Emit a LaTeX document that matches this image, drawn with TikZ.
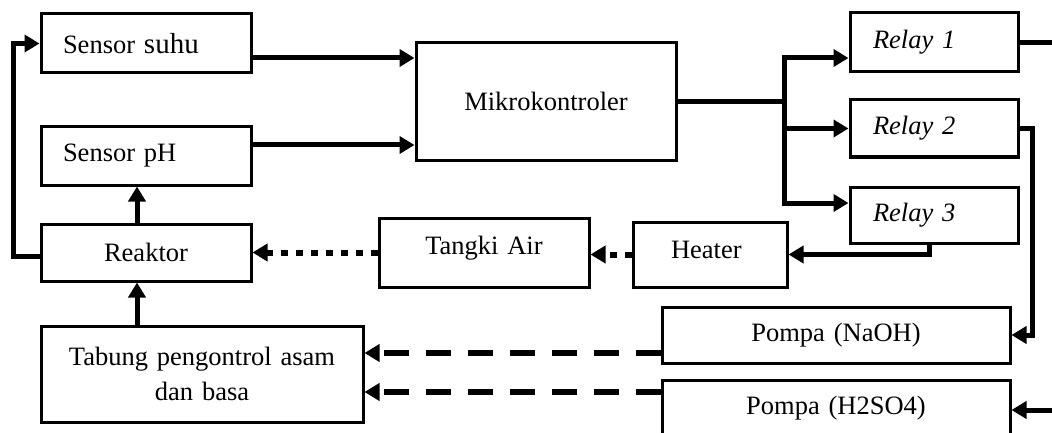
\documentclass[tikz,border=0pt]{standalone}
\usepackage{fontspec}
\setmainfont{Liberation Serif}
\usetikzlibrary{arrows.meta}
\begin{document}
\begin{tikzpicture}[x=1pt,y=-1pt,
  bx/.style={draw, line width=3pt, inner sep=0pt, font=\fontsize{26.5}{35}\selectfont},
  lbx/.style={bx, align=left, inner xsep=22pt},
  rbx/.style={bx, align=left, inner xsep=23pt, text width=122pt, font=\fontsize{26.5}{35}\selectfont\itshape},
  arr/.style={line width=5pt, -{Triangle[length=15pt,width=17pt]}},
  ln/.style={line width=5pt},
  dotarr/.style={line width=6pt, dash pattern=on 7pt off 8pt, -{Triangle[length=15pt,width=17pt]}},
  dasharr/.style={line width=6pt, dash pattern=on 25pt off 17pt, -{Triangle[length=15pt,width=17pt]}}]
\clip (0,0) rectangle (1052,433);
\fill[white] (0,0) rectangle (1052,433);
% boxes
\node[lbx, minimum height=59pt, text width=166pt] (suhu) at (146,43.5) {Sensor {\fontsize{29}{35}\selectfont suhu}};
\node[lbx, minimum height=58pt, text width=166pt] (ph) at (146,156) {Sensor pH};
\node[bx, minimum height=57pt, text width=210pt, align=center] (reaktor) at (146,252.5) {Reaktor};
\node[bx, minimum height=96pt, text width=322pt, align=center] (tabung) at (202,374) {Tabung pengontrol asam\\dan basa};
\node[bx, minimum height=117pt, text width=260pt, align=center] (mikro) at (546,101.5) {Mikrokontroler};
\node[rbx, minimum height=59pt] (relay1) at (934,42.5) {Relay 1};
\node[rbx, minimum height=57pt] (relay2) at (934,128.5) {Relay 2};
\node[rbx, minimum height=56pt] (relay3) at (934,215) {Relay 3};
\node[bx, minimum height=69pt, text width=210pt, align=center, text depth=14pt] (tangki) at (484,252.5) {Tangki Air};
\node[bx, minimum height=65pt, inner xsep=38pt, text width=78pt, align=left, text depth=10pt] (heater) at (710,254.5) {Heater};
\node[bx, minimum height=56pt, text width=348pt, align=center] (naoh) at (836,335) {Pompa (NaOH)};
\node[bx, minimum height=56pt, text width=348pt, align=center] (hso) at (836,408) {Pompa (H2SO4)};
% coordinates
\coordinate (fb) at (13,43.5);
\coordinate (br) at (784,101.5);
\coordinate (r2c) at (1032,335);
\coordinate (r1out) at (1070,42.5);
\coordinate (hin) at (1070,410);
\coordinate (rkw) at ([yshift=-4pt]reaktor.west);
\coordinate (suo) at ([yshift=-14.5pt]suhu.east);
\coordinate (pho) at ([yshift=11pt]ph.east);
\coordinate (rkn) at ([xshift=-9pt]reaktor.north);
\coordinate (rks) at ([xshift=-9pt]reaktor.south);
\coordinate (r1i) at ([yshift=-15.5pt]relay1.west);
\coordinate (r3i) at ([yshift=12pt]relay3.west);
\coordinate (r3o) at ([xshift=-5pt]relay3.south);
\coordinate (nao) at ([yshift=-18pt]naoh.west);
\coordinate (hsoo) at ([yshift=16pt]hso.west);
% connectors
\draw[arr] (rkw) -| (fb) -- (suhu.west);
\draw[arr] (suo) -- (mikro.west |- suo);
\draw[arr] (pho) -- (mikro.west |- pho);
\draw[arr] (rkn) -- (rkn |- ph.south);
\draw[arr] (rks |- tabung.north) -- (rks);
\draw[ln] (mikro.east) -- (br);
\draw[arr] (br) |- (r1i);
\draw[arr] (br) |- (r3i);
\draw[arr] (br |- relay2.west) -- (relay2.west);
\draw[ln] (relay1.east) -- (r1out);
\draw[arr] (relay2.east) -| (r2c) -- (naoh.east);
\draw[arr] (r3o) |- (heater.east);
\draw[dotarr] (heater.west) -- (tangki.east |- heater.west);
\draw[dotarr] (tangki.west) -- (reaktor.east |- tangki.west);
\draw[dasharr] (nao) -- (tabung.east |- nao);
\draw[dasharr] (hsoo) -- (tabung.east |- hsoo);
\draw[arr] (hin) -- (hso.east |- hin);
\end{tikzpicture}
\end{document}
